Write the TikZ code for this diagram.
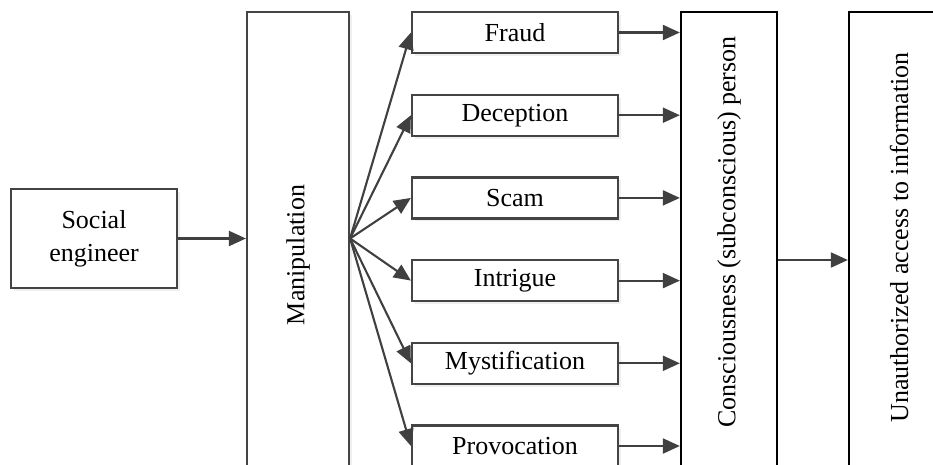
\documentclass[tikz,border=0pt]{standalone}
\usepackage{fontspec}
\setmainfont{Liberation Serif}
\usetikzlibrary{arrows.meta,shadows}
\definecolor{boxgray}{HTML}{444444}
\definecolor{arrowgray}{HTML}{404040}
\begin{document}
\begin{tikzpicture}[x=1pt,y=-1pt,
  box/.style={draw=boxgray,line width=2.2pt,fill=white,inner sep=0pt,
    drop shadow={shadow xshift=3pt,shadow yshift=-3pt,fill=black!12}},
  bigbox/.style={draw=black,line width=2.3pt,fill=white,inner sep=0pt},
  lbl/.style={font=\fontsize{26}{33}\selectfont,inner sep=0pt,align=center},
  vlbl/.style={lbl,rotate=90},
  arr/.style={draw=arrowgray,line width=2.1pt,-{Triangle[length=17pt,width=15pt]}}]
\useasboundingbox (0,0) rectangle (933,465);
\clip (0,0) rectangle (933,465);
% left box
\node[box,minimum width=166pt,minimum height=99pt,lbl] (se) at (94,238.5) {Social\\engineer};
% manipulation
\node[box,minimum width=102pt,minimum height=486pt] (man) at (298,255) {};
\node[vlbl] (manT) at (298,255) {Manipulation};
% middle boxes
\foreach \n/\t [count=\i from 0] in {fr/Fraud,de/Deception,sc/Scam,in/Intrigue,my/Mystification,pr/Provocation}{
  \node[box,minimum width=206pt,minimum height=41pt,lbl] (\n) at (515,32.5+82.7*\i) {\t};
}
% right boxes
\node[bigbox,minimum width=96pt,minimum height=468pt] (con) at (729,246) {};
\node[vlbl] (conT) at (729,232) {Consciousness (subconscious) person};
\node[bigbox,minimum width=97pt,minimum height=468pt] (un) at (897.5,246) {};
\node[vlbl] (unT) at (899,237.5) {Unauthorized access to information};
% arrows
\draw[arr] (se.east) -- (se.east -| man.west);
\coordinate (fan) at (se.east -| man.east);
\foreach \n in {fr,de,sc,in,my,pr}{
  \draw[arr] (fan) -- (\n.west);
  \draw[arr] (\n.east) -- (\n.east -| con.west);
}
\path (con.east) ++(0,14) coordinate (ca);
\draw[arr] (ca) -- (ca -| un.west);
\end{tikzpicture}
\end{document}
